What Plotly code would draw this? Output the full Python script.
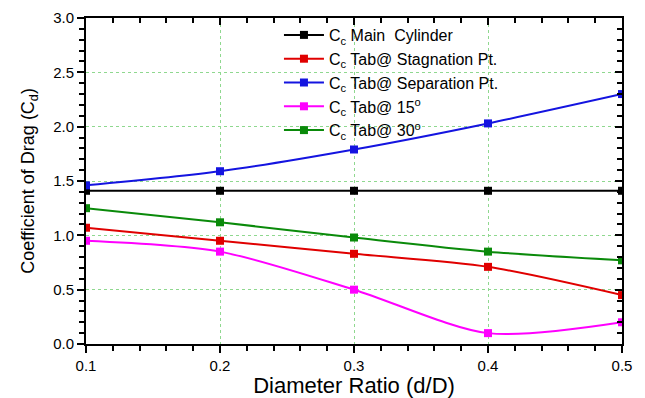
import plotly.graph_objects as go

# Diameter ratio d/D
ratio = [0.1, 0.2, 0.3, 0.4, 0.5]

# Drag coefficient for each configuration
cd_main = [1.41, 1.41, 1.41, 1.41, 1.41]
cd_stagnation = [1.07, 0.95, 0.83, 0.71, 0.45]
cd_separation = [1.46, 1.59, 1.79, 2.03, 2.30]
cd_tab15 = [0.95, 0.85, 0.50, 0.10, 0.20]
cd_tab30 = [1.25, 1.12, 0.98, 0.85, 0.77]

series_names = [
    "C<sub>c</sub> Main  Cylinder",
    "C<sub>c</sub> Tab@ Stagnation Pt.",
    "C<sub>c</sub> Tab@ Separation Pt.",
    "C<sub>c</sub> Tab@ 15<sup>o</sup>",
    "C<sub>c</sub> Tab@ 30<sup>o</sup>",
]
series_values = [cd_main, cd_stagnation, cd_separation, cd_tab15, cd_tab30]
series_colors = ["#000000", "#e00000", "#1414e0", "#ff00ff", "#0a8a0a"]

FONT = "Liberation Sans, Arial, sans-serif"

fig = go.Figure()
for name, vals, col in zip(series_names, series_values, series_colors):
    fig.add_trace(go.Scatter(
        x=ratio, y=vals, name=name, mode="lines+markers",
        line=dict(color=col, width=2, shape="spline", smoothing=0.8),
        marker=dict(symbol="square", size=8, color=col),
    ))

# invisible carrier for the top/right frame axes (inward ticks)
fig.add_trace(go.Scatter(
    x=ratio, y=cd_main, xaxis="x2", yaxis="y2", mode="markers",
    marker=dict(size=1, opacity=0), showlegend=False, hoverinfo="skip",
))

grid = dict(showgrid=True, gridcolor="#8fd88f", griddash="dot", gridwidth=1)

fig.update_layout(
    width=645, height=398,
    margin=dict(l=86, r=23, t=18, b=54),
    paper_bgcolor="white", plot_bgcolor="white",
    font=dict(family=FONT, size=15, color="black"),
    showlegend=True,
    legend=dict(
        x=0.36, y=1.0, xanchor="left", yanchor="top",
        bgcolor="rgba(0,0,0,0)", borderwidth=0,
        font=dict(size=16, family=FONT), itemwidth=40,
        tracegroupgap=0,
    ),
    xaxis=dict(
        range=[0.1, 0.5], dtick=0.1, tickformat=".1f",
        showline=True, linecolor="black", linewidth=2, mirror=True,
        ticks="outside", ticklen=7, tickwidth=2, tickcolor="black",
        minor=dict(dtick=0.02, ticks="outside", ticklen=5, tickwidth=2, tickcolor="black"),
        title=dict(text="Diameter Ratio (d/D)", font=dict(size=22), standoff=8),
        tickfont=dict(size=15), zeroline=False, automargin=False, **grid,
    ),
    yaxis=dict(
        range=[0, 3.0], dtick=0.5, tickformat=".1f",
        showline=True, linecolor="black", linewidth=2, mirror=True,
        ticks="outside", ticklen=7, tickwidth=2, tickcolor="black",
        minor=dict(dtick=0.1, ticks="outside", ticklen=5, tickwidth=2, tickcolor="black"),
        title=dict(text="Coefficient of Drag (C<sub>d</sub>)", font=dict(size=18), standoff=14),
        tickfont=dict(size=15), zeroline=False, automargin=False, **grid,
    ),
    xaxis2=dict(
        overlaying="x", side="top", range=[0.1, 0.5], dtick=0.1,
        showticklabels=False, showgrid=False, zeroline=False, showline=False,
        ticks="inside", ticklen=7, tickwidth=2, tickcolor="black", automargin=False,
        minor=dict(dtick=0.02, ticks="inside", ticklen=5, tickwidth=2, tickcolor="black"),
    ),
    yaxis2=dict(
        overlaying="y", side="right", range=[0, 3.0], dtick=0.5,
        showticklabels=False, showgrid=False, zeroline=False, showline=False,
        ticks="inside", ticklen=7, tickwidth=2, tickcolor="black", automargin=False,
        minor=dict(dtick=0.1, ticks="inside", ticklen=5, tickwidth=2, tickcolor="black"),
    ),
)

fig.write_html("out.html")
